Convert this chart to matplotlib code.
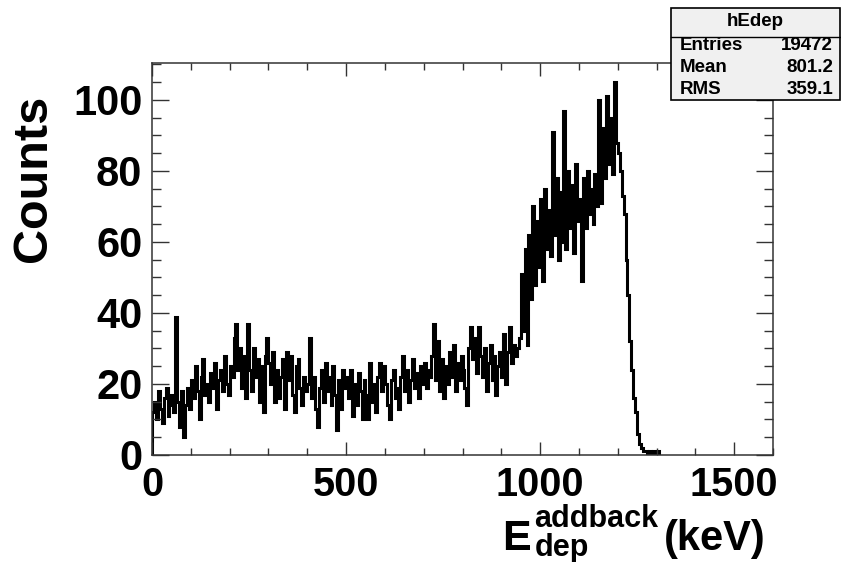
import numpy as np
import matplotlib
matplotlib.use("Agg")
import matplotlib.pyplot as plt
from matplotlib.patches import Rectangle

plt.rcParams['font.family'] = ['Liberation Sans', 'DejaVu Sans']

# histogram hEdep, 5 keV bins starting at 0 keV
bin_width = 5
counts = [
    12, 15, 10, 18, 13, 9, 16, 19, 11, 14,
    17, 12, 39, 15, 8, 18, 5, 14, 19, 13,
    21, 16, 25, 18, 10, 22, 27, 17, 20, 15,
    23, 19, 26, 13, 21, 24, 18, 28, 20, 17,
    25, 22, 33, 37, 24, 30, 19, 28, 16, 37,
    24, 18, 30, 22, 27, 15, 25, 12, 28, 33,
    26, 20, 29, 15, 24, 16, 22, 27, 13, 29,
    21, 28, 17, 12, 25, 27, 19, 14, 22, 18,
    20, 33, 16, 22, 13, 8, 19, 24, 15, 26,
    18, 22, 14, 25, 17, 7, 21, 13, 24, 19,
    22, 16, 24, 11, 20, 14, 23, 18, 10, 21,
    17, 10, 26, 15, 20, 12, 22, 26, 18, 25,
    20, 14, 10, 21, 24, 16, 19, 13, 22, 28,
    18, 24, 15, 21, 27, 19, 23, 16, 25, 20,
    26, 19, 24, 22, 28, 37, 21, 32, 18, 27,
    16, 25, 20, 29, 22, 31, 18, 26, 21, 28,
    24, 19, 14, 30, 36, 27, 33, 23, 36, 28,
    22, 30, 18, 26, 31, 21, 28, 17, 25, 29,
    22, 34, 20, 29, 36, 26, 31, 28, 30, 33,
    51, 35, 58, 31, 62, 44, 70, 48, 66, 53,
    72, 49, 75, 58, 69, 56, 91, 62, 78, 55,
    74, 60, 97, 58, 80, 64, 76, 57, 82, 66,
    72, 49, 78, 64, 80, 68, 75, 65, 79, 70,
    100, 71, 92, 78, 101, 82, 95, 79, 105, 88,
    85, 80, 73, 68, 55, 45, 32, 24, 16, 12,
    6, 3, 2, 1, 1, 0, 1, 0, 1, 0,
    1, 0,
]

stat_names = ["Entries", "Mean", "RMS"]
stat_values = ["19472", "801.2", "359.1"]

x_min, x_max = 0, 1600
y_max = 110.4

edges = np.arange(len(counts) + 1) * bin_width

fig = plt.figure(figsize=(8.41, 5.62), dpi=100)
ax = fig.add_axes([152/841, 107/562, 621/841, 392/562])

ax.stairs(counts, edges, color='black', linewidth=2.2, baseline=0)

ax.set_xlim(x_min, x_max)
ax.set_ylim(0, y_max)

ax.xaxis.set_major_locator(plt.MultipleLocator(500))
ax.xaxis.set_minor_locator(plt.MultipleLocator(100))
ax.yaxis.set_major_locator(plt.MultipleLocator(20))
ax.yaxis.set_minor_locator(plt.MultipleLocator(5))

ax.tick_params(which='both', direction='in', top=True, right=True, width=1, color='#333333')
ax.tick_params(axis='y', which='major', length=12, pad=7, labelsize=30)
ax.tick_params(axis='y', which='minor', length=6.5)
ax.tick_params(axis='x', which='major', length=9.5, pad=8, labelsize=28.5)
ax.tick_params(axis='x', which='minor', length=5)
for lab in ax.get_xticklabels() + ax.get_yticklabels():
    lab.set_fontweight('bold')
for sp in ax.spines.values():
    sp.set_linewidth(1.1)
    sp.set_color('#333333')

fig.text(33/841, 1 - 178/562, "Counts", rotation=90, ha='center', va='center',
         fontsize=35, fontweight='bold')

# x title: E with stacked super/subscript, then the unit
fig.text(502/841, 1 - 550/562, "E", ha='left', va='baseline',
         fontsize=31, fontweight='bold')
fig.text(534/841, 1 - 527/562, "addback", ha='left', va='baseline',
         fontsize=22, fontweight='bold')
fig.text(535/841, 1 - 556/562, "dep", ha='left', va='baseline',
         fontsize=22, fontweight='bold')
fig.text(766/841, 1 - 550/562, "(keV)", ha='right', va='baseline',
         fontsize=30, fontweight='bold')

# stats box
bx0, bx1 = 671/841, 840/841
by0, by1 = 1 - 100/562, 1 - 8/562
fig.patches.append(Rectangle((bx0, by0), bx1 - bx0, by1 - by0, transform=fig.transFigure,
                             facecolor='#f0f0f0', edgecolor='black', linewidth=1.2, zorder=10))
sep_y = 1 - 36.7/562
fig.add_artist(plt.Line2D([bx0, bx1], [sep_y, sep_y], transform=fig.transFigure,
                          color='black', linewidth=1, zorder=11))
fig.text((bx0 + bx1) / 2, 1 - 22/562, "hEdep", ha='center', va='center',
         fontsize=13.5, fontweight='bold', zorder=12)
row_y = [46, 67.5, 89]
for name, val, yy in zip(stat_names, stat_values, row_y):
    fig.text(680/841, 1 - yy/562, name, ha='left', va='center',
             fontsize=13.5, fontweight='bold', zorder=12)
    fig.text(833/841, 1 - yy/562, val, ha='right', va='center',
             fontsize=13.5, fontweight='bold', zorder=12)

fig.savefig("out.png", dpi=100, facecolor='white')
